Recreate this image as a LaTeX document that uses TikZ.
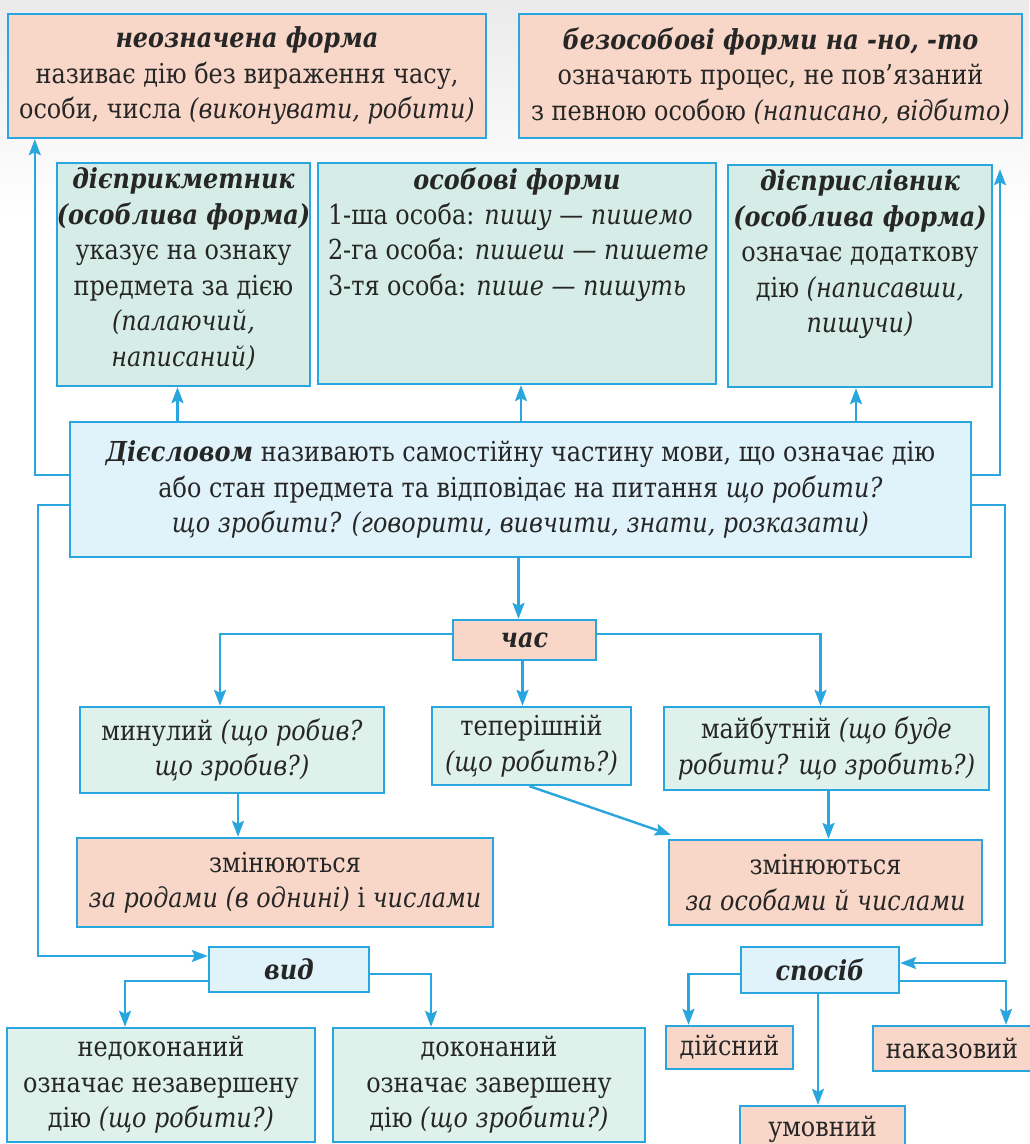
\documentclass[tikz,border=0pt]{standalone}
\usepackage{fontspec}
\setmainfont{DejaVu Serif}[FakeStretch=0.87]
\usetikzlibrary{arrows.meta,calc}
\definecolor{bord}{HTML}{29A6DE}
\definecolor{salmon}{HTML}{F8D7C9}
\definecolor{mint}{HTML}{D6EDE7}
\definecolor{mintl}{HTML}{DEF1EA}
\definecolor{skyb}{HTML}{E0F3FB}
\definecolor{txt}{HTML}{262626}
\begin{document}
\begin{tikzpicture}[x=1pt,y=-1pt,
  every node/.style={font=\fontsize{27.5}{35.5}\selectfont, text=txt},
  box/.style={draw=bord, line width=2.4pt, inner sep=0pt, align=center},
  lbl/.style={inner sep=0pt, align=center},
  arr/.style={draw=bord, line width=2.4pt, -{Stealth[length=16pt,width=12pt,inset=3pt]}},
  ln/.style={draw=bord, line width=2.4pt}]
\useasboundingbox (0,0) rectangle (1029,1144);
\fill[white] (0,0) rectangle (1029,1144);
\fill[top color=black!8, bottom color=white] (0,0) rectangle (1029,220);

% top row
\node[box, fill=salmon, minimum width=478pt, minimum height=124pt] (inf) at (247,76)
  {\textbf{\textit{неозначена форма}}\\ називає дію без вираження часу,\\ особи, числа \textit{(виконувати, робити)}};
\node[box, fill=salmon, minimum width=503pt, minimum height=124pt] (bez) at (770.5,76)
  {\textbf{\textit{безособові форми на -но, -то}}\\ означають процес, не пов’язаний\\ з певною особою \textit{(написано, відбито)}};

% middle row
\node[box, fill=mint, minimum width=253pt, minimum height=223pt] (dpr) at (183.5,274.5) {};
\node[lbl, anchor=north] (dprt) at ([yshift=-6pt]dpr.north)
  {\textbf{\textit{дієприкметник}}\\ \textbf{\textit{(особлива форма)}}\\ указує на ознаку\\ предмета за дією\\ \textit{(палаючий,}\\ \textit{написаний)}};
\node[box, fill=mint, minimum width=398pt, minimum height=221pt] (osob) at (517,273.5) {};
\node[lbl, anchor=north] (osobh) at ([yshift=-6pt]osob.north) {\textbf{\textit{особові форми}}};
\node[lbl, align=left, anchor=north west] (osobt) at ([xshift=11pt,yshift=-41pt]osob.north west)
  {1-ша особа: \textit{пишу — пишемо}\\ 2-га особа: \textit{пишеш — пишете}\\ 3-тя особа: \textit{пише — пишуть}};
\node[box, fill=mint, minimum width=264pt, minimum height=222pt] (dps) at (860,276) {};
\node[lbl, anchor=north] (dpst) at ([yshift=-6pt]dps.north)
  {\textbf{\textit{дієприслівник}}\\ \textbf{\textit{(особлива форма)}}\\ означає додаткову\\ дію \textit{(написавши,}\\ \textit{пишучи)}};

% main
\node[box, fill=skyb, minimum width=901pt, minimum height=135pt] (main) at (520.5,489.5)
  {\textbf{\textit{Дієсловом}} називають самостійну частину мови, що означає дію\\
   або стан предмета та відповідає на питання \textit{що робити?}\\
   \textit{що зробити? (говорити, вивчити, знати, розказати)}};

% time
\node[box, fill=salmon, minimum width=143pt, minimum height=40pt] (chas) at (524.5,640) {\textbf{\textit{час}}};
\node[box, fill=mintl, minimum width=304pt, minimum height=86pt] (past) at (232,750)
  {минулий \textit{(що робив?}\\ \textit{що зробив?)}};
\node[box, fill=mintl, minimum width=199pt, minimum height=78pt] (pres) at (531.5,746)
  {теперішній\\ \textit{(що робить?)}};
\node[box, fill=mintl, minimum width=325pt, minimum height=83pt] (fut) at (826.5,748.5)
  {майбутній \textit{(що буде}\\ \textit{робити? що зробить?)}};
\node[box, fill=salmon, minimum width=416pt, minimum height=89pt] (zm1) at (285,882.5)
  {змінюються\\ \textit{за родами (в однині)} і \textit{числами}};
\node[box, fill=salmon, minimum width=313pt, minimum height=85pt] (zm2) at (825.5,882.5)
  {змінюються\\ \textit{за особами й числами}};

% aspect
\node[box, fill=skyb, minimum width=160pt, minimum height=45pt] (vid) at (289,969.5) {\textbf{\textit{вид}}};
\node[box, fill=mintl, minimum width=308pt, minimum height=114pt] (nedok) at (161,1085)
  {недоконаний\\ означає незавершену\\ дію \textit{(що робити?)}};
\node[box, fill=mintl, minimum width=312pt, minimum height=114pt] (dok) at (489,1085)
  {доконаний\\ означає завершену\\ дію \textit{(що зробити?)}};

% mood
\node[box, fill=skyb, minimum width=158pt, minimum height=46pt] (sposib) at (820,970) {\textbf{\textit{спосіб}}};
\node[box, fill=salmon, minimum width=127pt, minimum height=43pt] (diysn) at (729.5,1047.5) {дійсний};
\node[box, fill=salmon, minimum width=158pt, minimum height=45pt] (nakaz) at (952,1048.5) {наказовий};
\node[box, fill=salmon, minimum width=165pt, minimum height=46pt] (umovn) at (822.5,1129) {умовний};

% bend coordinates
\coordinate (ldown) at (38,700);
\coordinate (rup) at (1000,300);
\coordinate (rdown) at (1005,700);
\coordinate (rtip) at ([yshift=-30pt]bez.south -| rup);

% connectors
\draw[arr] ([yshift=-54pt]main.north west) -| ([xshift=28pt]inf.south west);
\draw[arr] ([yshift=-54pt]main.north east) -| (rtip);
\draw[arr] ([xshift=-6pt]dpr.south |- main.north) -- ([xshift=-6pt]dpr.south);
\draw[arr] ([xshift=4pt]osob.south |- main.north) -- ([xshift=4pt]osob.south);
\draw[arr] ([xshift=-4pt]dps.south |- main.north) -- ([xshift=-4pt]dps.south);
\draw[ln] ([yshift=-84pt]main.north west) -| (ldown);
\draw[arr] (ldown) |- ([yshift=13.5pt]vid.west);
\draw[ln] ([yshift=-84pt]main.north east) -| (rdown);
\draw[arr] (rdown) |- ([yshift=7pt]sposib.east);

\draw[arr] ([xshift=-2pt]main.south) -- ([xshift=-2pt]main.south |- chas.north);
\draw[arr] ([yshift=6pt]chas.west) -| ([xshift=-12pt]past.north);
\draw[arr] ([yshift=6pt]chas.east) -| ([xshift=-6pt]fut.north);
\draw[arr] ([xshift=-2pt]chas.south) -- ([xshift=-2pt]chas.south |- pres.north);

\draw[arr] ([xshift=6pt]past.south) -- ([xshift=6pt]past.south |- zm1.north);
\draw[arr] ([xshift=2pt]fut.south) -- ([xshift=2pt]fut.south |- zm2.north);
\draw[arr] ([xshift=-2pt]pres.south) -- ([xshift=3pt,yshift=4pt]zm2.north west);

\draw[arr] ([yshift=-11.5pt]vid.west) -| ([xshift=-36pt]nedok.north);
\draw[arr] ([yshift=-4.5pt]vid.east) -| ([xshift=-58pt]dok.north);
\draw[arr] ([yshift=-4pt]sposib.west) -| ([xshift=-41pt]diysn.north);
\draw[arr] ([yshift=-11pt]sposib.east) -| ([xshift=54pt]nakaz.north);
\draw[arr] ([xshift=-2pt]sposib.south) -- ([xshift=-2pt]sposib.south |- umovn.north);
\end{tikzpicture}
\end{document}
